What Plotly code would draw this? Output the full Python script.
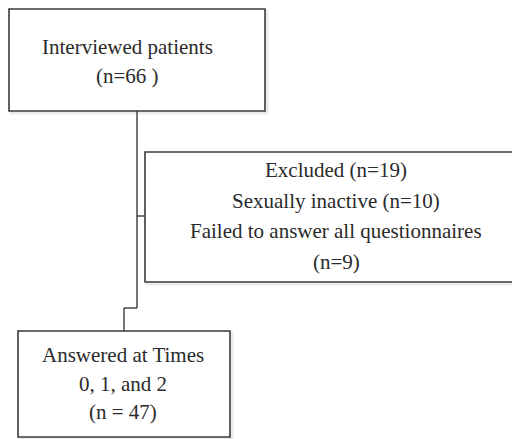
import plotly.graph_objects as go

# Flowchart content
box_labels = ["Interviewed patients", "Excluded", "Answered"]
box_lines = [
    ["Interviewed patients", "(n=66 )"],
    ["Excluded (n=19)", "Sexually inactive (n=10)", "Failed to answer all questionnaires", "(n=9)"],
    ["Answered at Times", "0, 1, and 2", "(n = 47)"],
]
# box geometry in page-pixel space (x0, y0, x1, y1)
box_geom = [
    (9, 9, 265, 111),
    (145, 152, 600, 282),
    (18, 331, 230, 437),
]
# text line centres (x, first y, line spacing)
text_pos = [
    (127, 47, 29),
    (336, 170, 30.6),
    (123, 355, 28.5),
]
# connector path
connector = [(137, 111), (137, 308), (124, 308), (124, 331)]
branch = [(137, 216), (145, 216)]

W, H = 520, 439
OFF = 8  # page body margin
LINE = "#3a3a3a"
FONT = "Liberation Serif"

fig = go.Figure()
shapes = []
for (x0, y0, x1, y1) in box_geom:
    shapes.append(dict(type="rect", x0=x0 + 2, y0=y0 + 2, x1=x1 + 2, y1=y1 + 2,
                       line=dict(color="rgba(0,0,0,0.08)", width=3), fillcolor="rgba(0,0,0,0)", layer="below"))
    shapes.append(dict(type="rect", x0=x0, y0=y0, x1=x1, y1=y1,
                       line=dict(color=LINE, width=1.6), fillcolor="white"))

def seg(a, b):
    return dict(type="line", x0=a[0], y0=a[1], x1=b[0], y1=b[1], line=dict(color=LINE, width=1.4))

for a, b in zip(connector[:-1], connector[1:]):
    shapes.append(seg(a, b))
shapes.append(seg(branch[0], branch[1]))

annotations = []
for lines, (cx, y0, dy) in zip(box_lines, text_pos):
    for i, t in enumerate(lines):
        annotations.append(dict(x=cx, y=y0 + i * dy, text=t, showarrow=False,
                                xanchor="center", yanchor="middle",
                                font=dict(family=FONT, size=21, color="#2a2a2a")))

fig.update_layout(
    width=W, height=H,
    margin=dict(l=0, r=0, t=0, b=0),
    paper_bgcolor="white", plot_bgcolor="white",
    xaxis=dict(range=[OFF, W + OFF], visible=False, fixedrange=True),
    yaxis=dict(range=[H + OFF, OFF], visible=False, fixedrange=True),
    shapes=shapes, annotations=annotations, showlegend=False,
)
fig.write_html("out.html")
